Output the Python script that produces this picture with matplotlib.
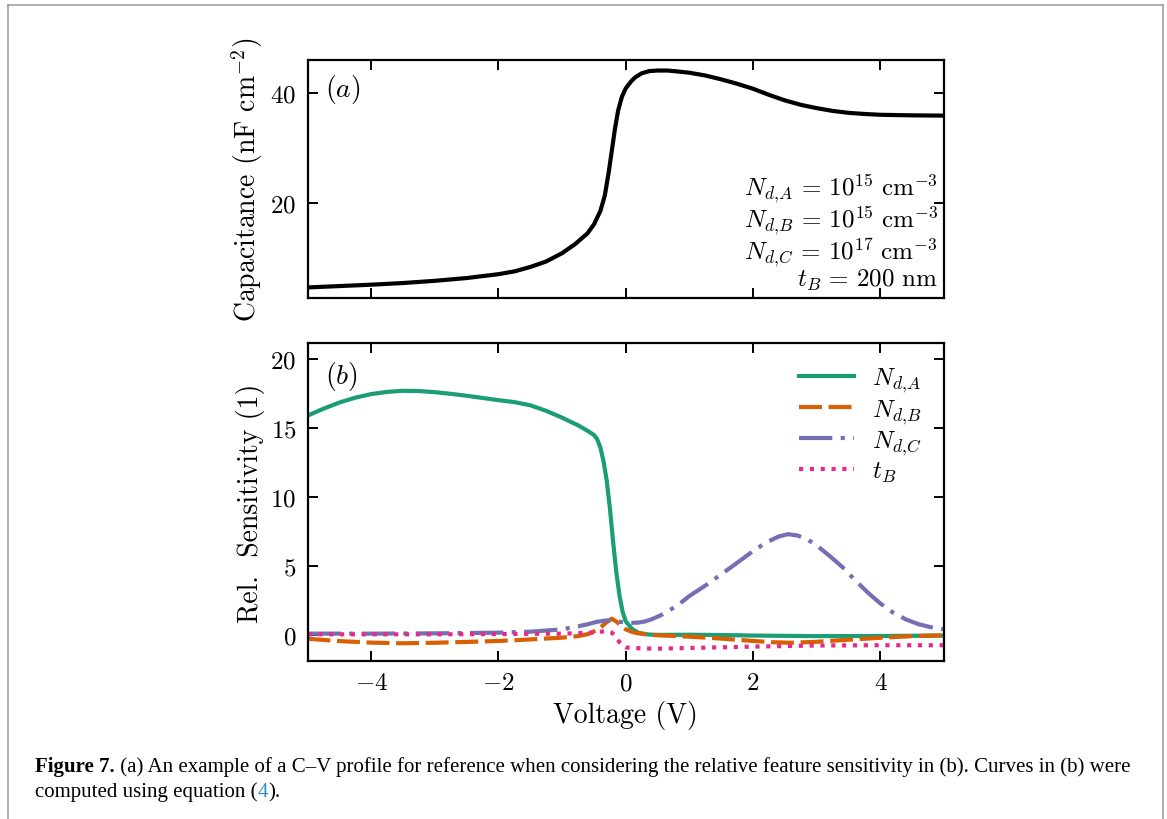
import matplotlib
matplotlib.use("Agg")
import matplotlib.pyplot as plt
from matplotlib.lines import Line2D

plt.rcParams["font.family"] = "serif"
plt.rcParams["font.serif"] = ["cmr10", "DejaVu Serif"]
plt.rcParams["mathtext.fontset"] = "cm"
plt.rcParams["axes.formatter.use_mathtext"] = True
plt.rcParams["axes.unicode_minus"] = True

# (a) C-V profile
cv_voltage = [-5.0, -4.5, -4.0, -3.5, -3.0, -2.5, -2.0, -1.75, -1.5, -1.25, -1.0,
              -0.8, -0.6, -0.5, -0.4, -0.33, -0.27, -0.22, -0.17, -0.12, -0.06,
              0.0, 0.08, 0.15, 0.25, 0.37, 0.5, 0.65, 0.8, 1.0, 1.25, 1.5, 1.75,
              2.0, 2.25, 2.5, 2.75, 3.0, 3.25, 3.5, 3.75, 4.0, 4.5, 5.0]
capacitance = [4.8, 5.05, 5.3, 5.6, 6.0, 6.5, 7.2, 7.7, 8.5, 9.5, 11.0,
               12.6, 14.6, 16.2, 18.6, 21.4, 25.5, 29.5, 33.5, 36.8, 39.3,
               40.8, 42.0, 42.8, 43.5, 43.9, 44.0, 44.0, 43.85, 43.6, 43.1, 42.4, 41.6,
               40.7, 39.6, 38.6, 37.8, 37.2, 36.7, 36.35, 36.15, 36.0, 35.9, 35.85]

# (b) relative sensitivities
nda_voltage = [-5.0, -4.75, -4.5, -4.25, -4.0, -3.75, -3.5, -3.25, -3.0, -2.75, -2.5,
               -2.25, -2.0, -1.75, -1.5, -1.25, -1.0, -0.75, -0.6, -0.5, -0.45, -0.4,
               -0.35, -0.3, -0.25, -0.2, -0.15, -0.1, -0.05, 0.0, 0.1, 0.2, 0.35, 0.5,
               1.0, 1.5, 2.0, 3.0, 4.0, 5.0]
nda_sens = [15.9, 16.4, 16.85, 17.2, 17.46, 17.62, 17.7, 17.68, 17.6, 17.48, 17.34,
            17.18, 17.02, 16.88, 16.65, 16.25, 15.75, 15.2, 14.8, 14.5, 14.2, 13.6,
            12.6, 11.2, 9.2, 6.8, 4.6, 2.9, 1.7, 1.0, 0.45, 0.18, 0.06, 0.03,
            0.04, 0.02, -0.02, -0.06, -0.05, -0.02]

ndb_voltage = [-5.0, -4.5, -4.0, -3.5, -3.0, -2.5, -2.0, -1.5, -1.0, -0.75, -0.6, -0.5,
               -0.4, -0.3, -0.22, -0.15, -0.08, 0.0, 0.1, 0.2, 0.35, 0.5, 0.75, 1.0,
               1.5, 2.0, 2.3, 2.6, 3.0, 3.5, 4.0, 4.5, 5.0]
ndb_sens = [-0.25, -0.42, -0.53, -0.58, -0.54, -0.48, -0.41, -0.3, -0.17, -0.06, 0.08, 0.28,
            0.56, 0.95, 1.2, 1.0, 0.72, 0.43, 0.24, 0.14, 0.05, 0.0, -0.05, -0.1,
            -0.24, -0.41, -0.5, -0.54, -0.47, -0.32, -0.18, -0.06, 0.0]

ndc_voltage = [-5.0, -4.0, -3.0, -2.0, -1.5, -1.0, -0.75, -0.6, -0.45, -0.3, -0.2, -0.1,
               0.0, 0.1, 0.2, 0.3, 0.4, 0.55, 0.7, 0.85, 1.0, 1.25, 1.5, 1.75, 2.0,
               2.2, 2.4, 2.55, 2.7, 2.85, 3.0, 3.2, 3.4, 3.6, 3.8, 4.0, 4.2, 4.4,
               4.6, 4.8, 5.0]
ndc_sens = [0.12, 0.12, 0.14, 0.19, 0.26, 0.43, 0.65, 0.8, 0.98, 1.08, 1.07, 0.98,
            0.92, 0.9, 0.92, 1.0, 1.15, 1.45, 1.85, 2.3, 2.85, 3.6, 4.42, 5.25, 6.1,
            6.7, 7.15, 7.32, 7.22, 6.95, 6.5, 5.75, 4.95, 4.0, 3.1, 2.3, 1.64, 1.15,
            0.8, 0.58, 0.43]

tb_voltage = [-5.0, -4.0, -3.0, -2.0, -1.0, -0.6, -0.45, -0.3, -0.22, -0.15, -0.1,
              -0.05, 0.0, 0.25, 0.5, 1.0, 2.0, 3.0, 4.0, 5.0]
tb_sens = [0.07, 0.07, 0.07, 0.09, 0.12, 0.17, 0.23, 0.31, 0.2, -0.15, -0.5,
           -0.75, -0.88, -0.95, -0.97, -0.92, -0.82, -0.74, -0.72, -0.72]

params_text = (r"$N_{d,\!A} \,=\, 10^{15}\ \mathrm{cm}^{-3}$" "\n"
               r"$N_{d,\!B} \,=\, 10^{15}\ \mathrm{cm}^{-3}$" "\n"
               r"$N_{d,\!C} \,=\, 10^{17}\ \mathrm{cm}^{-3}$" "\n"
               r"$t_B \,=\, 200\ \mathrm{nm}$")

fig = plt.figure(figsize=(11.67, 8.2), dpi=100)
ax_a = fig.add_axes([0.2635, 0.635, 0.5455, 0.291])
ax_b = fig.add_axes([0.2635, 0.1927, 0.5455, 0.3878], sharex=ax_a)

ax_a.plot(cv_voltage, capacitance, color="black", lw=3.0)
ax_a.set_yticks([20, 40])
ax_a.set_ylabel(r"Capacitance (nF cm$^{-2}$)", fontsize=20)
ax_a.text(0.027, 0.95, r"$(a)$", transform=ax_a.transAxes, fontsize=20, va="top")
ax_a.text(0.99, 0.025, params_text, transform=ax_a.transAxes, fontsize=18,
          ha="right", va="bottom", multialignment="right", linespacing=0.92)
ax_a.tick_params(labelbottom=False)

ax_b.plot(nda_voltage, nda_sens, color="#1b9e77", lw=3.0, label=r"$N_{d,\!A}$")
ax_b.plot(ndb_voltage, ndb_sens, color="#d95f02", lw=3.0, ls=(0, (5.5, 1.6)), label=r"$N_{d,\!B}$")
ax_b.plot(ndc_voltage, ndc_sens, color="#7570b3", lw=3.0, ls=(0, (8, 2, 1, 2)), label=r"$N_{d,\!C}$")
ax_b.plot(tb_voltage, tb_sens, color="#e7298a", lw=3.0, ls=(0, (1, 1.6)), label=r"$t_B$")
ax_b.set_xlim(-5, 5)
ax_b.set_ylim(-1.86, 21.16)
ax_b.set_xticks([-4, -2, 0, 2, 4])
ax_b.set_yticks([0, 5, 10, 15, 20])
ax_b.set_xlabel("Voltage (V)", fontsize=20)
ax_b.set_ylabel("Rel.  Sensitivity (1)", fontsize=20)
ax_b.text(0.027, 0.95, r"$(b)$", transform=ax_b.transAxes, fontsize=20, va="top")
ax_b.legend(loc="upper right", frameon=False, fontsize=18, handlelength=2.2,
            labelspacing=0.1, borderaxespad=0.6, handletextpad=0.7,
            borderpad=0.3)

for ax in (ax_a, ax_b):
    ax.tick_params(direction="in", top=True, right=True, length=7, width=1.4,
                   labelsize=18, pad=8)
    for spine in ax.spines.values():
        spine.set_linewidth(1.6)

fig.align_ylabels([ax_a, ax_b])

# page frame
for xs, ys in [([8 / 1167, 8 / 1167], [0, 1 - 6 / 820]),
               ([8 / 1167, 1163 / 1167], [1 - 6 / 820, 1 - 6 / 820]),
               ([1163 / 1167, 1163 / 1167], [0, 1 - 6 / 820])]:
    fig.add_artist(Line2D(xs, ys, transform=fig.transFigure, color="#a0a0a0", lw=1.2))

# caption
cap_kw = dict(fontsize=15, family="Liberation Serif")
t1 = fig.text(35 / 1167, 1 - 772 / 820, "Figure 7.", fontweight="bold", va="baseline", **cap_kw)
plt.annotate(" (a) An example of a C–V profile for reference when considering the relative "
             "feature sensitivity in (b). Curves in (b) were",
             xy=(1, 0), xycoords=t1, va="bottom", annotation_clip=False, **cap_kw)
t2 = fig.text(35 / 1167, 1 - 797 / 820, "computed using equation (", va="baseline", **cap_kw)
t3 = plt.annotate("4", xy=(1, 0), xycoords=t2, va="bottom", color="#2a8fd0",
                  annotation_clip=False, **cap_kw)
plt.annotate(").", xy=(1, 0), xycoords=t3, va="bottom", annotation_clip=False, **cap_kw)

fig.savefig("out.png", dpi=100, facecolor="white")
